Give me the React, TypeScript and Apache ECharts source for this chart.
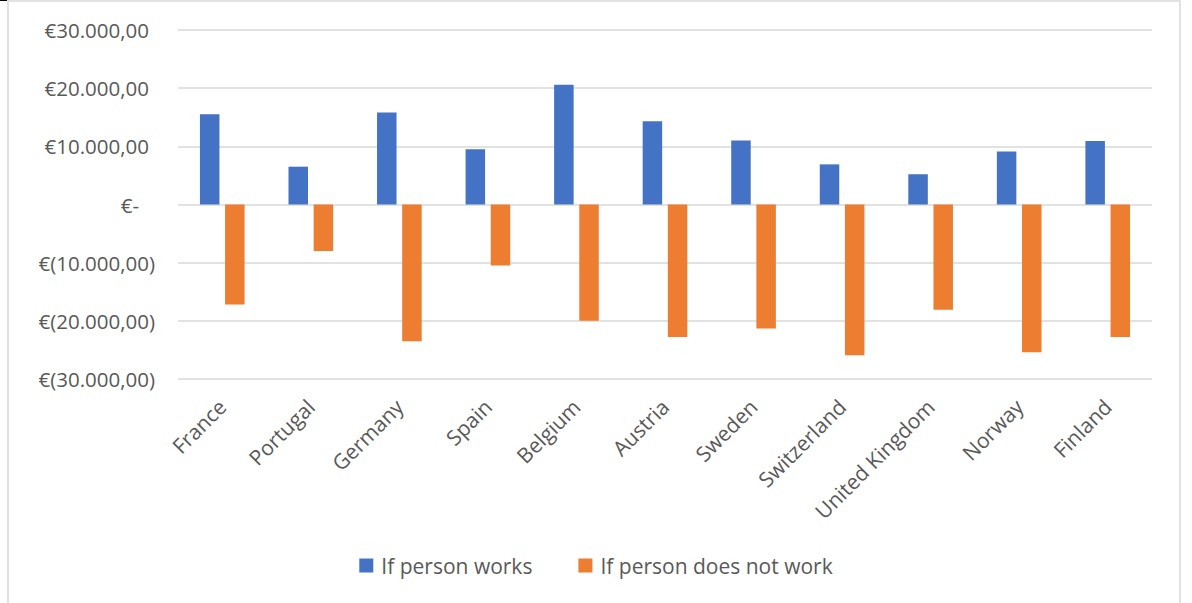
import React, { useEffect, useRef } from "react";
import * as echarts from "echarts";

// Annual difference per country, in euro
const countries = [
  "France",
  "Portugal",
  "Germany",
  "Spain",
  "Belgium",
  "Austria",
  "Sweden",
  "Switzerland",
  "United Kingdom",
  "Norway",
  "Finland",
];

const personWorks = [15500, 6500, 15800, 9500, 20600, 14300, 11000, 6900, 5200, 9100, 10900];
const personDoesNotWork = [-17200, -8000, -23500, -10500, -20000, -22800, -21300, -25900, -18100, -25400, -22800];

const seriesNames = ["If person works", "If person does not work"];
const seriesColors = ["#4472C4", "#ED7D31"];

const yMin = -30000;
const yMax = 30000;
const yStep = 10000;

const FONT = "'Open Sans', 'Noto Sans', sans-serif";
const TEXT_COLOR = "#595959";
const GRID_COLOR = "#D9D9D9";

// Accounting-style euro format: €20.000,00 / €- / €(10.000,00)
function euro(value: number): string {
  const abs = Math.abs(value);
  const intPart = Math.floor(abs)
    .toString()
    .replace(/\B(?=(\d{3})+(?!\d))/g, ".");
  const body = intPart + ",00";
  if (value === 0) return "{z|€-}";
  if (value < 0) return "{n|€(" + body + ")}";
  return "{p|€" + body + "}";
}

export default function App() {
  const ref = useRef<HTMLDivElement>(null);

  useEffect(() => {
    if (!ref.current) return;
    const chart = echarts.init(ref.current, undefined, { renderer: "svg" });

    const labelBase = { fontFamily: FONT, fontSize: 20.5, color: TEXT_COLOR };

    chart.setOption({
      animation: false,
      backgroundColor: "#ffffff",
      textStyle: { fontFamily: FONT },
      graphic: [
        {
          type: "rect",
          shape: { x: 8, y: 1, width: 1172, height: 620 },
          style: { fill: "none", stroke: GRID_COLOR, lineWidth: 1.5 },
          silent: true,
        },
        {
          type: "line",
          shape: { x1: 0, y1: 0.5, x2: 7, y2: 0.5 },
          style: { stroke: "#000000", lineWidth: 1 },
          silent: true,
        },
      ],
      grid: {
        left: 178,
        right: 40,
        top: 30,
        bottom: 224,
        containLabel: false,
      },
      legend: {
        data: seriesNames,
        bottom: 22,
        left: "center",
        itemWidth: 14,
        itemHeight: 14,
        itemGap: 46,
        icon: "rect",
        textStyle: {
          fontFamily: FONT,
          fontSize: 21,
          color: TEXT_COLOR,
          padding: [0, 0, 0, 3],
        },
      },
      xAxis: {
        type: "category",
        data: countries,
        axisLine: { show: false },
        axisTick: { show: false },
        splitLine: { show: false },
        axisLabel: {
          rotate: 45,
          interval: 0,
          margin: 24,
          fontFamily: FONT,
          fontSize: 21,
          color: TEXT_COLOR,
        },
      },
      yAxis: {
        type: "value",
        min: yMin,
        max: yMax,
        interval: yStep,
        axisLine: { show: false },
        axisTick: { show: false },
        splitLine: { lineStyle: { color: GRID_COLOR, width: 1.5 } },
        axisLabel: {
          margin: 23,
          formatter: (v: number) => euro(v),
          rich: {
            p: { ...labelBase, padding: [0, 6, 0, 0] },
            z: { ...labelBase, padding: [0, 16, 0, 0] },
            n: { ...labelBase },
          },
        },
      },
      series: [
        {
          name: seriesNames[0],
          type: "bar",
          data: personWorks,
          barWidth: 19.5,
          barGap: "29%",
          itemStyle: { color: seriesColors[0] },
        },
        {
          name: seriesNames[1],
          type: "bar",
          data: personDoesNotWork,
          barWidth: 19.5,
          itemStyle: { color: seriesColors[1] },
        },
      ],
    });

    return () => chart.dispose();
  }, []);

  return (
    <div
      ref={ref}
      style={{ position: "absolute", left: 0, top: 0, width: 1192, height: 603 }}
    />
  );
}
